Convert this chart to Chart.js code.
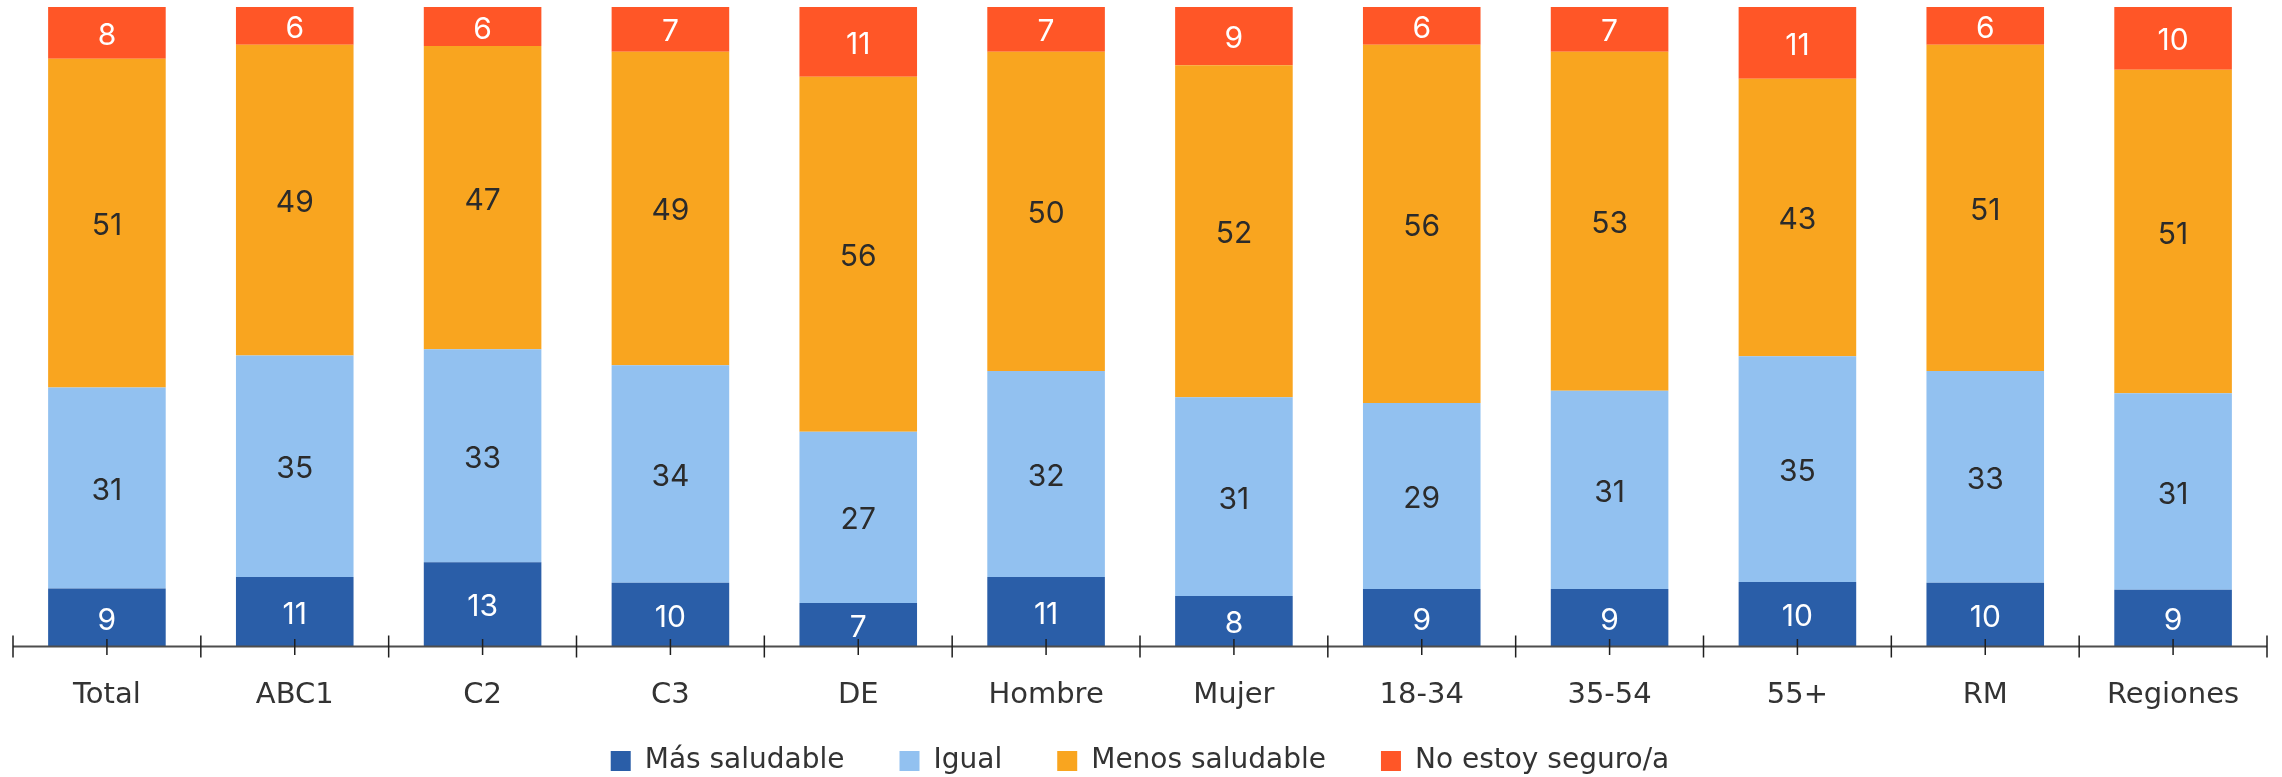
<!DOCTYPE html>
<html>
<head>
<meta charset="utf-8">
<script src="https://cdn.jsdelivr.net/npm/chart.js@4"></script>
<style>
  html, body { margin: 0; padding: 0; background: #fff; }
  #wrap { width: 2282px; height: 777px; }
</style>
</head>
<body>
<div id="wrap"><canvas id="chartSalud"></canvas></div>
<script>
// datos (porcentajes)
const categorias = ['Total', 'ABC1', 'C2', 'C3', 'DE', 'Hombre', 'Mujer', '18-34', '35-54', '55+', 'RM', 'Regiones'];
const masSaludable = [9.1, 10.9, 13.2, 10.0, 6.8, 10.9, 7.9, 9.0, 9.0, 10.1, 10.0, 8.9];
const igual = [31.4, 34.6, 33.3, 34.0, 26.8, 32.2, 31.1, 29.1, 31.0, 35.3, 33.1, 30.7];
const menosSaludable = [51.4, 48.6, 47.4, 49.0, 55.5, 49.9, 51.9, 56.0, 53.0, 43.4, 51.0, 50.6];
const noSeguro = [8.1, 5.9, 6.1, 7.0, 10.9, 7.0, 9.1, 5.9, 7.0, 11.2, 5.9, 9.8];

const series = ['Más saludable', 'Igual', 'Menos saludable', 'No estoy seguro/a'];
const colores = ['#2A5EA8', '#92C1F0', '#F9A51F', '#FF5627'];
const colorTexto = ['#ffffff', '#2b2b2b', '#2b2b2b', '#ffffff'];

Chart.defaults.font.family = '"DejaVu Sans", sans-serif';
Chart.defaults.color = '#333';

// leyenda: alto fijo y pegada al borde inferior
const legendFit = {
  id: 'legendFit',
  beforeInit(chart) {
    const fit = chart.legend.fit;
    chart.legend.fit = function () {
      fit.call(this);
      this.height = 64;
    };
  },
  afterLayout(chart) {
    const l = chart.legend;
    l.top = 692;
    l.bottom = chart.height;
  }
};

// etiquetas dentro de cada segmento
const etiquetas = {
  id: 'etiquetas',
  afterDatasetsDraw(chart) {
    const ctx = chart.ctx;
    ctx.save();
    ctx.font = '30px Inter, "Open Sans", sans-serif';
    ctx.textAlign = 'center';
    ctx.textBaseline = 'middle';
    chart.data.datasets.forEach((ds, d) => {
      const meta = chart.getDatasetMeta(d);
      meta.data.forEach((bar, i) => {
        ctx.fillStyle = colorTexto[d];
        ctx.fillText(String(Math.round(ds.data[i])), bar.x, (bar.y + bar.base) / 2 + 3);
      });
    });
    ctx.restore();
  }
};

// eje x con marcas cruzando la linea
const ejeX = {
  id: 'ejeX',
  afterDatasetsDraw(chart) {
    const ctx = chart.ctx;
    const x = chart.scales.x;
    const y0 = chart.chartArea.bottom;
    const paso = x.width / categorias.length;
    ctx.save();
    ctx.strokeStyle = '#4d4d4d';
    ctx.lineWidth = 2;
    ctx.beginPath();
    ctx.moveTo(x.left, y0);
    ctx.lineTo(x.right, y0);
    ctx.stroke();
    ctx.strokeStyle = '#1f1f1f';
    ctx.lineWidth = 1.5;
    ctx.beginPath();
    for (let i = 0; i <= categorias.length; i++) {
      const px = x.left + i * paso;
      ctx.moveTo(px, y0 - 11);
      ctx.lineTo(px, y0 + 11);
    }
    categorias.forEach((c, i) => {
      const px = x.getPixelForValue(i);
      ctx.moveTo(px, y0 - 7.5);
      ctx.lineTo(px, y0 + 8.5);
    });
    ctx.stroke();
    ctx.restore();
  }
};

const datos = [masSaludable, igual, menosSaludable, noSeguro];

new Chart(document.getElementById('chartSalud'), {
  type: 'bar',
  data: {
    labels: categorias,
    datasets: series.map((s, d) => ({
      label: s,
      data: datos[d],
      backgroundColor: colores[d],
      borderWidth: 0,
      categoryPercentage: 1,
      barPercentage: 0.626
    }))
  },
  options: {
    responsive: true,
    maintainAspectRatio: false,
    animation: false,
    layout: { padding: { top: 7, left: 13, right: 15, bottom: 0 } },
    scales: {
      x: {
        stacked: true,
        grid: { display: false },
        border: { display: false },
        ticks: { font: { size: 29 }, color: '#333', padding: 23.6, maxRotation: 0 },
        afterFit(scale) { scale.height = 66.4; }
      },
      y: {
        stacked: true,
        display: false,
        min: 0,
        max: 100
      }
    },
    plugins: {
      legend: {
        position: 'bottom',
        labels: {
          boxWidth: 20,
          boxHeight: 20,
          padding: 55,
          color: '#333',
          font: { size: 28 }
        }
      },
      tooltip: { enabled: false }
    }
  },
  plugins: [legendFit, etiquetas, ejeX]
});
</script>
</body>
</html>
